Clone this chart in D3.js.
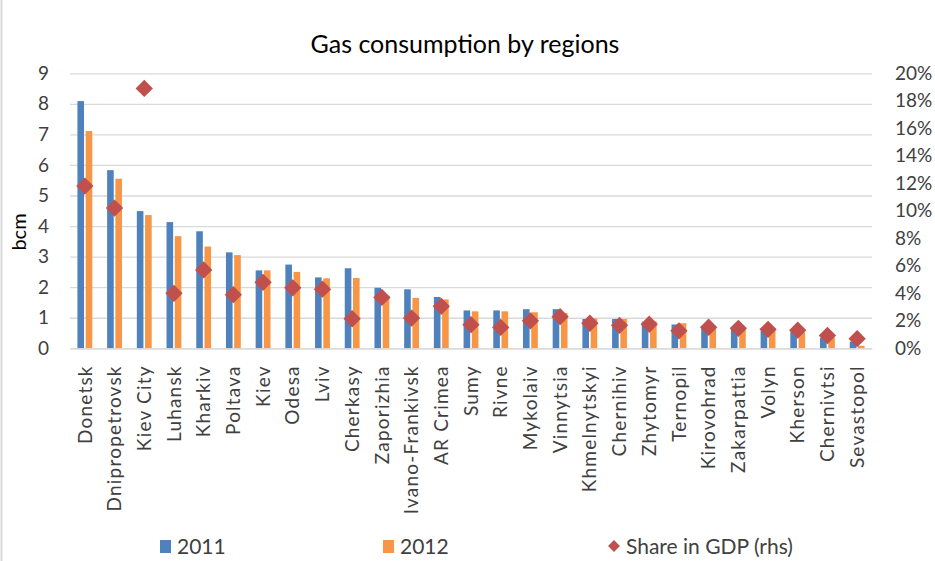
<!DOCTYPE html>
<html>
<head>
<meta charset="utf-8">
<script src="https://cdn.jsdelivr.net/npm/d3@7"></script>
<style>
  body { margin: 0; background: #fff; }
  svg { display: block; font-family: Lato, "Open Sans", sans-serif; }
</style>
</head>
<body>
<svg id="chart"></svg>
<script>
// categories and values
const regions = ["Donetsk", "Dnipropetrovsk", "Kiev City", "Luhansk", "Kharkiv", "Poltava", "Kiev",
  "Odesa", "Lviv", "Cherkasy", "Zaporizhia", "Ivano-Frankivsk", "AR Crimea", "Sumy", "Rivne",
  "Mykolaiv", "Vinnytsia", "Khmelnytskyi", "Chernihiv", "Zhytomyr", "Ternopil", "Kirovohrad",
  "Zakarpattia", "Volyn", "Kherson", "Chernivtsi", "Sevastopol"];
const gas2011 = [8.09, 5.83, 4.49, 4.13, 3.83, 3.14, 2.55, 2.74, 2.32, 2.62, 1.98, 1.93, 1.68,
  1.24, 1.24, 1.28, 1.28, 0.96, 0.96, 0.87, 0.78, 0.66, 0.65, 0.57, 0.54, 0.35, 0.22];
const gas2012 = [7.11, 5.55, 4.36, 3.67, 3.33, 3.05, 2.55, 2.50, 2.29, 2.30, 1.73, 1.65, 1.60,
  1.21, 1.21, 1.18, 1.15, 0.98, 0.96, 0.88, 0.82, 0.67, 0.65, 0.62, 0.52, 0.35, 0.08];
const shareGdp = [11.8, 10.2, 18.9, 4.0, 5.7, 3.9, 4.8, 4.4, 4.3, 2.15, 3.7, 2.2, 3.05, 1.72,
  1.52, 2.0, 2.3, 1.82, 1.67, 1.75, 1.27, 1.53, 1.45, 1.38, 1.32, 0.93, 0.7];
const leftTicks = [0, 1, 2, 3, 4, 5, 6, 7, 8, 9];
const rightTicks = [0, 2, 4, 6, 8, 10, 12, 14, 16, 18, 20];
const seriesNames = ["2011", "2012"];

const width = 935, height = 561;
const margin = {left: 70, right: 63, top: 73.3, bottom: 212.7};
const colors = {"2011": "#4f81bd", "2012": "#f79646", share: "#c0504d"};

const svg = d3.select("#chart").attr("width", width).attr("height", height);

// thin frame line on the left like the original screenshot
svg.append("line")
  .attr("x1", 1.5).attr("x2", 1.5).attr("y1", 0).attr("y2", height)
  .attr("stroke", "#d9d9d9").attr("stroke-width", 2);

const x = d3.scaleBand().domain(regions)
  .range([margin.left, width - margin.right])
  .paddingInner(0.5).paddingOuter(0.25);
const xIn = d3.scaleBand().domain(seriesNames).range([0, x.bandwidth()]).paddingInner(0.2);
const y = d3.scaleLinear().domain([0, 9]).range([height - margin.bottom, margin.top]);
const y2 = d3.scaleLinear().domain([0, 20]).range([height - margin.bottom, margin.top]);

// gridlines
svg.append("g")
  .attr("transform", `translate(${margin.left},0)`)
  .call(d3.axisLeft(y).tickValues(leftTicks).tickSize(-(width - margin.left - margin.right)).tickFormat(""))
  .call(g => g.select(".domain").remove())
  .call(g => g.selectAll("line").attr("stroke", "#d9d9d9").attr("stroke-width", 1.3));

// left axis labels
svg.append("g")
  .attr("transform", `translate(${margin.left},0)`)
  .call(d3.axisLeft(y).tickValues(leftTicks).tickSize(0).tickPadding(21))
  .call(g => g.select(".domain").remove())
  .call(g => g.selectAll("text").attr("font-size", 19).attr("fill", "#404040")
    .attr("font-family", "Lato, sans-serif"));

// right axis labels
svg.append("g")
  .attr("transform", `translate(${width - margin.right},0)`)
  .call(d3.axisRight(y2).tickValues(rightTicks).tickSize(0).tickPadding(23).tickFormat(d => d + "%"))
  .call(g => g.select(".domain").remove())
  .call(g => g.selectAll("text").attr("font-size", 19).attr("fill", "#404040")
    .attr("font-family", "Lato, sans-serif"));

// bars
const rows = regions.map((r, i) => ({region: r, "2011": gas2011[i], "2012": gas2012[i], share: shareGdp[i]}));
const groups = svg.append("g").selectAll("g").data(rows).join("g")
  .attr("transform", d => `translate(${x(d.region)},0)`);
groups.selectAll("rect")
  .data(d => seriesNames.map(s => ({s, v: d[s]})))
  .join("rect")
  .attr("x", d => xIn(d.s))
  .attr("width", xIn.bandwidth())
  .attr("y", d => y(d.v))
  .attr("height", d => y(0) - y(d.v))
  .attr("fill", d => colors[d.s]);

// share in GDP diamonds
const diamond = d3.symbol(d3.symbolSquare, 150);
svg.append("g").selectAll("path").data(rows).join("path")
  .attr("d", diamond)
  .attr("transform", d => `translate(${x(d.region) + x.bandwidth() / 2},${y2(d.share)}) rotate(45)`)
  .attr("fill", colors.share);

// category labels
svg.append("g")
  .attr("transform", `translate(0,${height - margin.bottom})`)
  .call(d3.axisBottom(x).tickSize(0).tickPadding(0))
  .call(g => g.select(".domain").attr("stroke", "#d9d9d9").attr("stroke-width", 1.3))
  .call(g => g.selectAll("text")
    .attr("font-size", 19).attr("fill", "#404040").attr("font-family", "Lato, sans-serif")
    .attr("letter-spacing", 1.2)
    .attr("text-anchor", "end")
    .attr("dy", "0.35em")
    .attr("transform", "translate(0,17) rotate(-90)"));

// title
svg.append("text")
  .attr("x", 465).attr("y", 53)
  .attr("text-anchor", "middle")
  .attr("font-size", 25).attr("fill", "#000")
  .text("Gas consumption by regions");

// y axis title
svg.append("text")
  .attr("transform", "translate(26,232) rotate(-90)")
  .attr("text-anchor", "middle")
  .attr("font-size", 20).attr("fill", "#000")
  .text("bcm");

// legend
const legendItems = [
  {key: "2011", label: "2011", x: 160},
  {key: "2012", label: "2012", x: 383},
  {key: "share", label: "Share in GDP (rhs)", x: 606}
];
const lg = svg.append("g").selectAll("g").data(legendItems).join("g")
  .attr("transform", d => `translate(${d.x},546)`);
lg.filter(d => d.key !== "share").append("rect")
  .attr("x", 0).attr("y", -6).attr("width", 11).attr("height", 13)
  .attr("fill", d => colors[d.key]);
lg.filter(d => d.key === "share").append("path")
  .attr("d", d3.symbol(d3.symbolSquare, 70))
  .attr("transform", "translate(8,0) rotate(45)")
  .attr("fill", colors.share);
lg.append("text")
  .attr("x", d => d.key === "share" ? 20 : 17)
  .attr("dy", "0.36em")
  .attr("font-size", 21).attr("fill", "#404040")
  .text(d => d.label);
</script>
</body>
</html>
